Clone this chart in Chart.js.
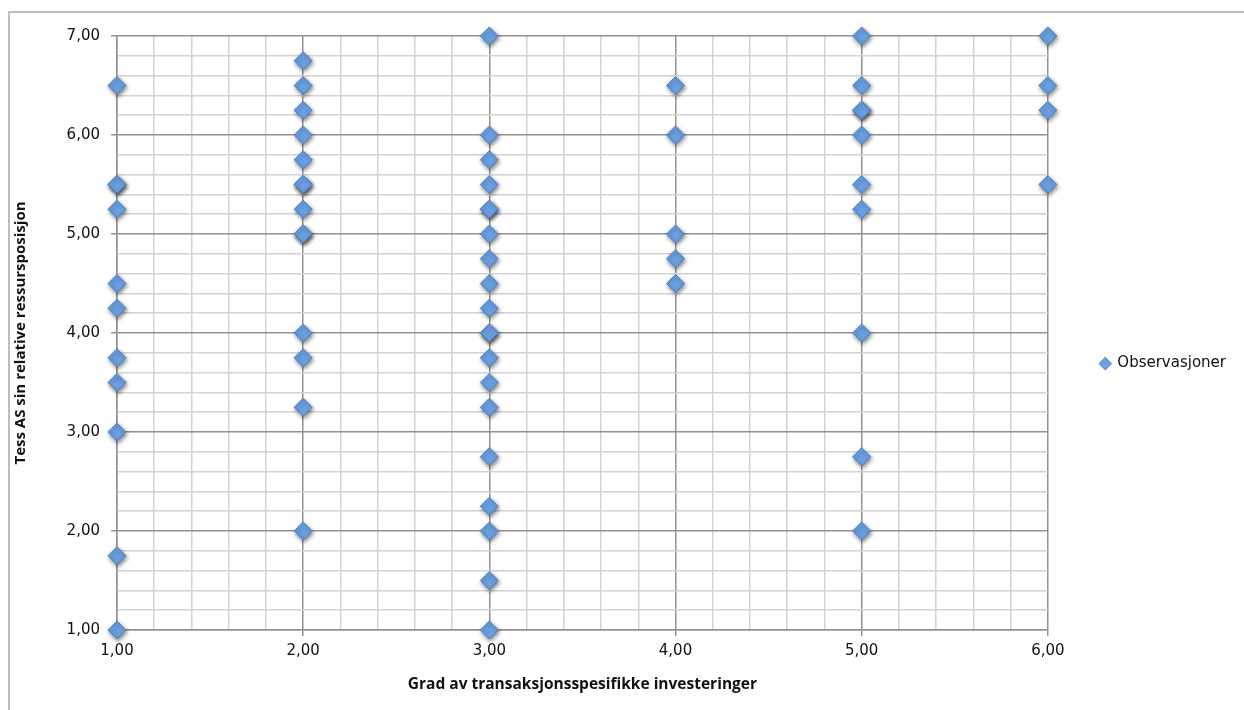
<!DOCTYPE html>
<html>
<head>
<meta charset="utf-8">
<script src="https://cdn.jsdelivr.net/npm/chart.js@4.4.1/dist/chart.umd.min.js"></script>
<style>
  body { margin: 0; background: #fff; overflow: hidden; }
  #wrap { position: relative; width: 1244px; height: 710px; }
  #frame { position: absolute; left: 8px; top: 11px; width: 1300px; height: 800px; border: 2px solid #bdbdbd; }
  canvas { position: absolute; left: 0; top: 0; }
</style>
</head>
<body>
<div id="wrap">
  <div id="frame"></div>
  <canvas id="myChart" width="1244" height="710"></canvas>
</div>
<script>
// observations per x value (duplicates kept where the marker shows a darker shadow)
let xValues = [1, 2, 3, 4, 5, 6];
let yAt1 = [6.5, 5.5, 5.5, 5.25, 4.5, 4.25, 3.75, 3.5, 3.0, 1.75, 1.0];
let yAt2 = [6.75, 6.5, 6.25, 6.0, 5.75, 5.5, 5.5, 5.25, 5.0, 5.0, 4.0, 3.75, 3.25, 2.0];
let yAt3 = [7.0, 6.0, 5.75, 5.5, 5.25, 5.25, 5.0, 4.75, 4.5, 4.25, 4.0, 4.0, 3.75, 3.5, 3.25, 2.75, 2.25, 2.0, 1.5, 1.0];
let yAt4 = [6.5, 6.0, 5.0, 4.75, 4.5];
let yAt5 = [7.0, 6.5, 6.25, 6.25, 6.0, 5.5, 5.25, 4.0, 2.75, 2.0];
let yAt6 = [7.0, 6.5, 6.25, 5.5];
let seriesName = "Observasjoner";
let xTitle = "Grad av transaksjonsspesifikke investeringer";
let yTitle = "Tess AS sin relative ressursposisjon";

let columns = [yAt1, yAt2, yAt3, yAt4, yAt5, yAt6];
let points = [];
columns.forEach((col, i) => {
  col.forEach((y) => points.push({ x: xValues[i], y: y }));
});

let fmt = (v) => v.toFixed(2).replace(".", ",");
let isMajor = (v) => Math.abs(v - Math.round(v)) < 1e-6;

// soft drop shadow under the markers
let shadowPlugin = {
  id: "markerShadow",
  beforeDatasetsDraw(chart) {
    let ctx = chart.ctx;
    ctx.save();
    ctx.shadowColor = "rgba(0,0,0,0.5)";
    ctx.shadowBlur = 4;
    ctx.shadowOffsetX = 1;
    ctx.shadowOffsetY = 2;
  },
  afterDatasetsDraw(chart) {
    chart.ctx.restore();
  },
};

let tickFont = { family: "'DejaVu Sans', sans-serif", size: 15 };
let titleFont = { family: "'Open Sans', 'Noto Sans', sans-serif", size: 15.5, weight: "bold" };

let ctx = document.getElementById("myChart").getContext("2d");
let myChart = new Chart(ctx, {
  type: "scatter",
  data: {
    datasets: [
      {
        label: seriesName,
        data: points,
        clip: false,
        pointStyle: "rectRot",
        pointRadius: 9,
        pointHoverRadius: 9,
        backgroundColor: "#6aa0e2",
        borderColor: "#4c82c6",
        borderWidth: 1,
      },
    ],
  },
  plugins: [shadowPlugin],
  options: {
    responsive: false,
    animation: false,
    layout: { padding: { left: 0, top: 36, right: 8, bottom: 0 } },
    plugins: {
      tooltip: { enabled: false },
      legend: {
        position: "right",
        // empty title with negative padding just nudges the item up a little
        title: { display: true, text: "", font: { size: 1 }, padding: { top: -10, bottom: -10 } },
        labels: {
          usePointStyle: true,
          pointStyle: "rectRot",
          boxWidth: 9,
          boxHeight: 9,
          padding: 53,
          color: "#111",
          font: tickFont,
        },
      },
    },
    scales: {
      x: {
        type: "linear",
        min: 1,
        max: 6,
        afterFit: (s) => { s.height = 80; },
        ticks: {
          stepSize: 0.2,
          autoSkip: false,
          maxRotation: 0,
          color: "#111",
          font: tickFont,
          padding: 6,
          callback: (v) => (isMajor(v) ? fmt(v) : ""),
        },
        grid: {
          color: (c) => (isMajor(c.tick.value) ? "#929292" : "#d2d2d2"),
          lineWidth: 1.5,
          tickLength: 6,
          tickColor: (c) => (isMajor(c.tick.value) ? "#929292" : "rgba(0,0,0,0)"),
        },
        border: { color: "#929292", width: 1.5 },
        title: { display: true, text: xTitle, color: "#111", font: titleFont, padding: { top: 0, bottom: 16 } },
      },
      y: {
        type: "linear",
        min: 1,
        max: 7,
        afterFit: (s) => { s.width = 117; },
        ticks: {
          stepSize: 0.2,
          autoSkip: false,
          color: "#111",
          font: tickFont,
          padding: 11,
          callback: (v) => (isMajor(v) ? fmt(v) : ""),
        },
        grid: {
          color: (c) => (isMajor(c.tick.value) ? "#929292" : "#d2d2d2"),
          lineWidth: 1.5,
          tickLength: 6,
          tickColor: (c) => (isMajor(c.tick.value) ? "#929292" : "rgba(0,0,0,0)"),
        },
        border: { color: "#929292", width: 1.5 },
        title: { display: true, text: yTitle, color: "#111", font: { family: titleFont.family, size: 15, weight: "bold" }, padding: { top: 12, bottom: 0 } },
      },
    },
  },
});
</script>
</body>
</html>
